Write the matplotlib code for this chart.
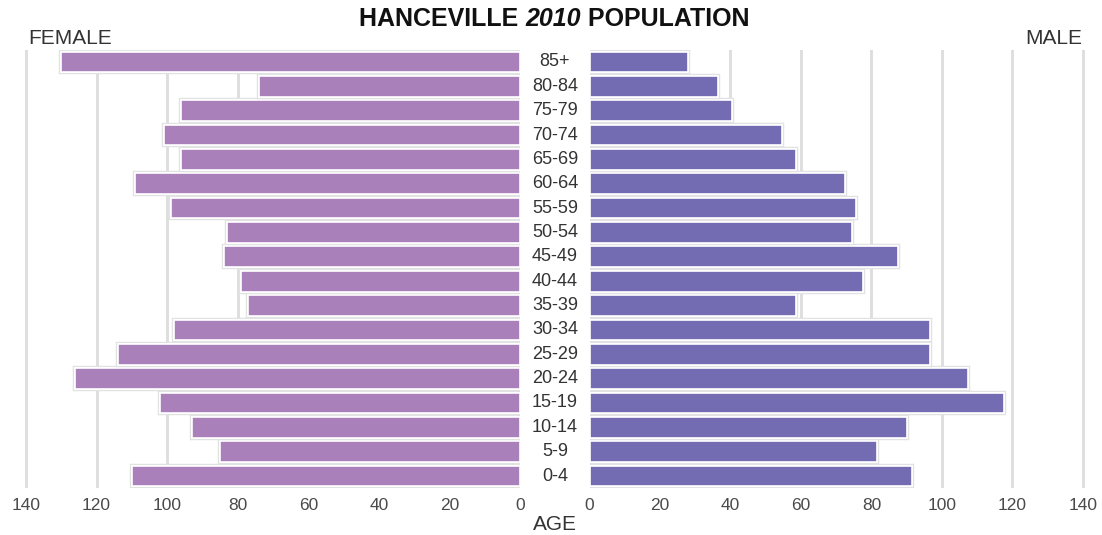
import matplotlib
matplotlib.use("Agg")
import matplotlib.pyplot as plt
import matplotlib.patheffects as pe

ages = ["0-4", "5-9", "10-14", "15-19", "20-24", "25-29", "30-34", "35-39",
        "40-44", "45-49", "50-54", "55-59", "60-64", "65-69", "70-74",
        "75-79", "80-84", "85+"]
female = [110, 85, 93, 102, 126, 114, 98, 77, 79, 84, 83, 99, 109, 96, 101, 96, 74, 130]
male = [91.5, 81.5, 90, 117.5, 107.5, 96.5, 96.5, 58.5, 77.5, 87.5, 74.5, 75.5, 72.5, 58.5, 54.5, 40.5, 36.5, 28]
ticks = [0, 20, 40, 60, 80, 100, 120, 140]

FONT = ["Liberation Sans Narrow", "Liberation Sans", "DejaVu Sans"]
plt.rcParams["font.family"] = FONT

W, H = 1102, 535
fig = plt.figure(figsize=(W / 100, H / 100), dpi=100)

def box(x0, x1, ytop, ybot):
    return [x0 / W, 1 - ybot / H, (x1 - x0) / W, (ybot - ytop) / H]

ytop, ybot = 49.8, 488.2
axL = fig.add_axes(box(19, 520, ytop, ybot))
axR = fig.add_axes(box(589.5, 1090, ytop, ybot))

fcol = "#a980b9"
mcol = "#736cb2"
grid_eff = [pe.withStroke(linewidth=4, foreground="white"), pe.Normal()]
bar_eff = [pe.withStroke(linewidth=3.2, foreground="#e2e2e2"), pe.Normal()]

y = list(range(len(ages)))
for ax, vals, col in ((axL, female, fcol), (axR, male, mcol)):
    for t in ticks:
        ax.axvline(t, color="#dedede", lw=1.8, zorder=1, path_effects=grid_eff)
    bars = ax.barh(y, vals, height=0.85, color=col, edgecolor="white", linewidth=1.2, zorder=3)
    for b in bars:
        b.set_path_effects(bar_eff)
    ax.set_ylim(-0.5, len(ages) - 0.5)
    ax.set_yticks([])
    ax.set_xticks(ticks)
    ax.set_xticklabels([str(t) for t in ticks])
    ax.tick_params(axis="x", length=0, pad=7, labelsize=12.5, labelcolor="#4a4a4a")
    for s in ax.spines.values():
        s.set_visible(False)
    ax.set_facecolor("none")

axL.set_xlim(142, 0)
axR.set_xlim(0, 142)

for i, a in enumerate(ages):
    yy = axL.transData.transform((0, i))[1]
    fig.text(555 / W, yy / H, a, ha="center", va="center", fontsize=13, color="#333333")

fig.text(555 / W, 1 - 524 / H, "AGE", ha="center", va="center", fontsize=15, color="#333333")
fig.text(28 / W, 1 - 38 / H, "FEMALE", ha="left", va="center", fontsize=15, color="#333333")
fig.text(1082 / W, 1 - 38 / H, "MALE", ha="right", va="center", fontsize=15, color="#333333")

# Title with mixed style
parts = [("HANCEVILLE ", "normal"), ("2010", "italic"), (" POPULATION", "normal")]
fig.canvas.draw()
r = fig.canvas.get_renderer()
texts = []
for s, st in parts:
    t = fig.text(0, 1 - 19 / H, s, ha="left", va="center", fontsize=18, fontweight="bold",
                 fontstyle=st, color="#111111")
    texts.append(t)
widths = [t.get_window_extent(renderer=r).width for t in texts]
total = sum(widths)
x = 554 - total / 2
for t, w in zip(texts, widths):
    t.set_x(x / W)
    x += w

fig.savefig("out.png", dpi=100, facecolor="white")
